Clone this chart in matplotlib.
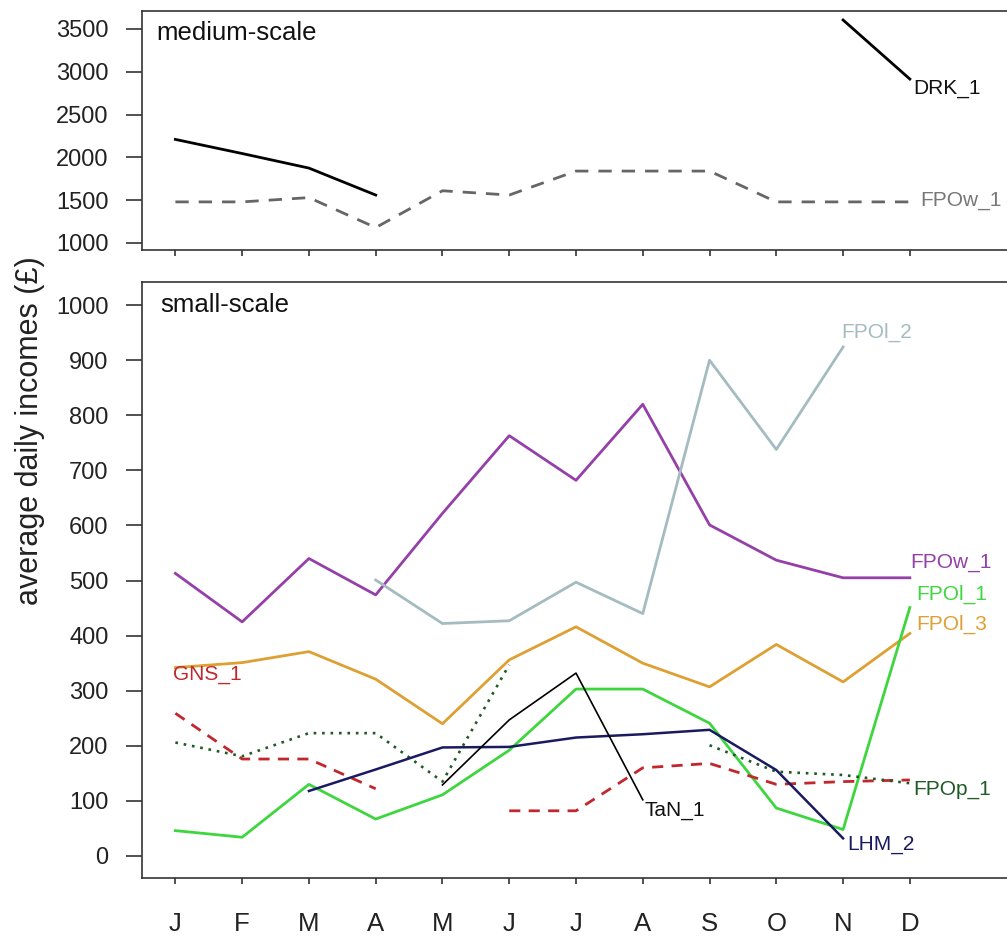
import numpy as np
import matplotlib
matplotlib.use("Agg")
import matplotlib.pyplot as plt

plt.rcParams['font.family'] = ['Liberation Sans', 'DejaVu Sans']

nan = np.nan
months = ['J', 'F', 'M', 'A', 'M', 'J', 'J', 'A', 'S', 'O', 'N', 'D']
x = np.arange(1, 13)

# medium-scale operators
drk_1 = [2210, 2045, 1875, 1560, nan, nan, nan, nan, nan, nan, 3605, 2915]
fpow_1_med = [1480, 1480, 1530, 1180, 1610, 1560, 1840, 1840, 1840, 1480, 1480, 1480]

# small-scale operators
fpow_1 = [513, 425, 540, 474, 622, 763, 682, 820, 601, 537, 505, 505]
fpol_2 = [nan, nan, nan, 501, 422, 427, 497, 440, 900, 738, 924, nan]
fpol_3 = [342, 351, 371, 321, 240, 356, 416, 350, 307, 384, 316, 404]
fpol_1 = [46, 34, 130, 67, 111, 192, 303, 303, 241, 87, 48, 451]
gns_1 = [259, 176, 176, 122, nan, 82, 82, 160, 168, 130, 135, 138]
fpop_1 = [206, 181, 223, 223, 135, 347, nan, nan, 201, 153, 147, 132]
lhm_2 = [nan, nan, 118, 157, 197, 198, 215, 221, 229, 156, 32, nan]
tan_1 = [nan, nan, nan, nan, 129, 247, 332, 102, nan, nan, nan, nan]

W, H = 1007, 940
fig = plt.figure(figsize=(W / 100, H / 100), dpi=100)

left = 142 / W
right = 1010 / W
ax1 = fig.add_axes([left, 1 - 250 / H, right - left, (250 - 11) / H])
ax2 = fig.add_axes([left, 1 - 878 / H, right - left, (878 - 282) / H])

for ax in (ax1, ax2):
    ax.set_xlim(0.5, 13.5)
    ax.set_xticks(x)
    for s in ax.spines.values():
        s.set_linewidth(1.2)
        s.set_color('#333333')
    ax.tick_params(axis='y', length=11.5, width=1.2, color='#333333',
                   labelsize=17, pad=12.5, labelcolor='#222222')
    ax.tick_params(axis='x', length=4.5, width=1.2, color='#333333',
                   labelsize=18.5, pad=20, labelcolor='#222222')

label_fs = 15

# top panel
ax1.set_ylim(918, 3710)
ax1.set_yticks([1000, 1500, 2000, 2500, 3000, 3500])
ax1.set_xticklabels([])
ax1.plot(x, drk_1, color='black', lw=2.0)
ax1.plot(x, fpow_1_med, color='#666666', lw=2.0, dashes=(4.8, 3.6))
ax1.text(0.72, 3450, 'medium-scale', fontsize=18.5, color='#111111', va='center')
ax1.text(12.05, 2800, 'DRK_1', fontsize=label_fs, color='#111111', va='center')
ax1.text(12.15, 1500, 'FPOw_1', fontsize=label_fs, color='#777777', va='center')

# bottom panel
ax2.set_ylim(-40, 1042)
ax2.set_yticks(np.arange(0, 1001, 100))
ax2.set_xticklabels(months)

ax2.plot(x, fpow_1, color='#9440a8', lw=2.0)
ax2.plot(x, fpol_2, color='#a4bcc0', lw=2.0)
ax2.plot(x, fpol_3, color='#dea032', lw=2.0)
ax2.plot(x, fpol_1, color='#3ed63e', lw=2.0)
ax2.plot(x, gns_1, color='#c0282d', lw=2.0, dashes=(4, 3))
ax2.plot(x, fpop_1, color='#1e5a24', lw=1.9, dashes=(1, 2.2))
ax2.plot(x, lhm_2, color='#1a1a60', lw=1.8)
ax2.plot(x, tan_1, color='black', lw=1.2)

ax2.text(0.78, 1000, 'small-scale', fontsize=18.5, color='#111111', va='center')
ax2.text(10.97, 950, 'FPOl_2', fontsize=label_fs, color='#a4bcc0', va='center')
ax2.text(12.0, 532, 'FPOw_1', fontsize=label_fs, color='#9440a8', va='center')
ax2.text(12.1, 474, 'FPOl_1', fontsize=label_fs, color='#3ed63e', va='center')
ax2.text(12.1, 421, 'FPOl_3', fontsize=label_fs, color='#dea032', va='center')
ax2.text(0.96, 330, 'GNS_1', fontsize=label_fs, color='#c0282d', va='center')
ax2.text(12.05, 120, 'FPOp_1', fontsize=label_fs, color='#1e5a24', va='center')
ax2.text(8.03, 83, 'TaN_1', fontsize=label_fs, color='#111111', va='center')
ax2.text(11.06, 20, 'LHM_2', fontsize=label_fs, color='#1a1a60', va='center')

fig.text(30 / W, 1 - 431 / H, 'average daily incomes (\u00a3)', rotation=90,
         fontsize=22, color='#222222', ha='center', va='center')

fig.savefig('out.png', dpi=100)
